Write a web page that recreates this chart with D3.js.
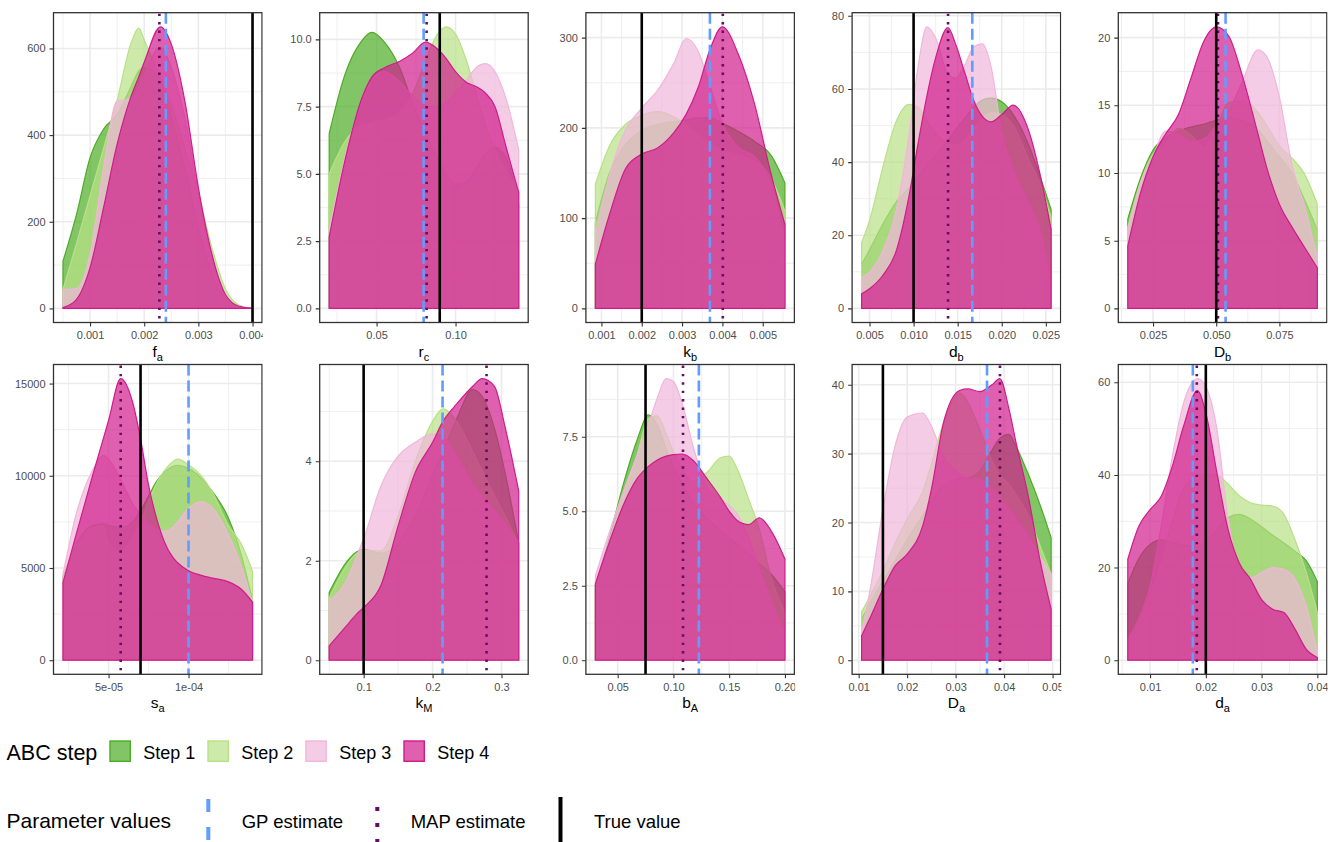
<!DOCTYPE html>
<html>
<head>
<meta charset="utf-8">
<script src="https://cdn.jsdelivr.net/npm/d3@7"></script>
<style>
  body { margin: 0; background: #ffffff; }
  svg { display: block; }
  text { font-family: "Liberation Sans", Arial, Helvetica, sans-serif; }
</style>
</head>
<body>
<svg id="chart" width="1331" height="842"></svg>
<script>
// ABC posterior densities per step, one panel per parameter.

const stepNames = ["Step 1", "Step 2", "Step 3", "Step 4"];
const stepColors = ["#4dac26", "#b8e186", "#f1b6da", "#d01c8b"];

// f_a
const faX  = [0.0005, 0.00075, 0.001, 0.00125, 0.0015, 0.00175, 0.0019, 0.002, 0.0023, 0.0025, 0.00275, 0.003, 0.00325, 0.0035, 0.00375, 0.004];
const faS1 = [109, 217, 348, 414, 448, 510, 548, 556, 530, 440, 325, 186, 79, 21, 3, 0];
const faS2 = [44, 150, 260, 370, 480, 610, 647, 620, 530, 470, 370, 265, 140, 45, 8, 0];
const faS3 = [44, 46, 125, 325, 479, 483, 510, 540, 602, 556, 440, 263, 109, 25, 3, 0];
const faS4 = [2, 21, 94, 233, 379, 487, 535, 568, 650, 610, 479, 279, 125, 32, 5, 0.5];

// r_c
const rcX  = [0.02, 0.03, 0.04, 0.047, 0.055, 0.065, 0.073, 0.081, 0.0875, 0.094, 0.10, 0.107, 0.113, 0.119, 0.125, 0.132, 0.14];
const rcS1 = [6.5, 8.7, 9.9, 10.26, 9.9, 8.9, 7.6, 6.5, 5.7, 5.0, 4.6, 4.7, 5.2, 5.75, 6.0, 5.6, 3.9];
const rcS2 = [5.0, 6.2, 6.8, 6.9, 7.0, 7.3, 8.0, 9.2, 10.1, 10.47, 10.2, 9.2, 8.0, 6.8, 5.9, 5.1, 4.4];
const rcS3 = [2.9, 5.6, 7.6, 8.5, 8.8, 8.4, 7.9, 7.55, 7.5, 7.65, 8.0, 8.5, 8.95, 9.1, 8.8, 7.8, 5.9];
const rcS4 = [2.65, 5.5, 7.7, 8.6, 8.95, 9.2, 9.5, 9.9, 9.7, 9.3, 8.8, 8.4, 8.25, 8.0, 7.5, 6.0, 4.3];

// k_b
const kbX  = [0.00085, 0.0012, 0.0016, 0.002, 0.0024, 0.0028, 0.0031, 0.0034, 0.0037, 0.004, 0.0044, 0.0048, 0.0052, 0.00555];
const kbS1 = [95, 150, 182, 197, 204, 207, 209, 211, 211, 205, 196, 185, 170, 139];
const kbS2 = [138, 180, 204, 214, 218, 212, 203, 192, 182, 175, 170, 163, 145, 108];
const kbS3 = [82, 148, 198, 222, 242, 272, 299, 285, 245, 205, 178, 168, 138, 75];
const kbS4 = [49, 104, 155, 171, 178, 195, 215, 245, 288, 312, 281, 226, 150, 93];

// d_b
const dbX  = [0.0041, 0.005, 0.0065, 0.008, 0.0095, 0.0105, 0.0115, 0.0125, 0.0139, 0.0148, 0.0158, 0.0168, 0.0178, 0.0188, 0.020, 0.0213, 0.023, 0.0245, 0.0256];
const dbS1 = [12, 16, 23, 29, 33, 36, 39, 42, 46, 49, 52, 55, 57, 57.5, 56.5, 53, 45, 35, 27];
const dbS2 = [18, 24, 38.5, 51, 55.8, 55, 51.5, 48, 45, 44.5, 46, 49, 52, 53.5, 53, 50, 41, 33, 25];
const dbS3 = [8.4, 10, 15.7, 26.6, 47.6, 66, 77, 74, 64, 63, 66.5, 71.5, 72.3, 66, 48, 38, 29, 20, 6.6];
const dbS4 = [4, 5.4, 9, 15.5, 31, 45, 58, 68.5, 76.8, 72, 64.5, 57, 52.5, 51, 53, 55.6, 49, 35, 21.5];

// D_b
const DbX  = [0.015, 0.02, 0.025, 0.03, 0.035, 0.04, 0.045, 0.05, 0.055, 0.06, 0.0665, 0.07, 0.075, 0.08, 0.085, 0.09];
const DbS1 = [6.6, 9.6, 11.7, 12.6, 13.1, 13.4, 13.6, 13.9, 14.1, 13.9, 13.2, 12.4, 11.2, 10.0, 8.0, 5.8];
const DbS2 = [6.0, 9.3, 11.4, 12.2, 13.3, 12.8, 11.9, 13.4, 15.2, 15.3, 14.5, 13.5, 12.0, 11.1, 9.9, 7.7];
const DbS3 = [5.7, 9.2, 11.2, 13.1, 12.9, 12.3, 12.5, 13.5, 14.6, 16.6, 19.1, 18.6, 15.6, 10.6, 7.5, 3.8];
const DbS4 = [4.6, 8.5, 11.2, 12.9, 14.3, 17.0, 19.7, 20.8, 20.1, 17.4, 12.9, 10.4, 7.7, 6.0, 4.5, 3.0];

// s_a
const saX  = [2.15e-5, 3e-5, 4e-5, 4.7e-5, 5e-5, 5.76e-5, 6.5e-5, 7e-5, 7.5e-5, 8e-5, 8.5e-5, 9e-5, 9.3e-5, 1e-4, 1.08e-4, 1.15e-4, 1.25e-4, 1.33e-4, 1.4e-4];
const saS1 = [4500, 6300, 7300, 7400, 7300, 7200, 7500, 8100, 8900, 9700, 10200, 10500, 10570, 10400, 9860, 9140, 7700, 5700, 3230];
const saS2 = [4400, 6200, 7200, 7300, 6300, 5900, 6600, 7500, 8600, 9600, 10300, 10750, 10900, 10600, 10000, 9100, 7300, 6300, 4840];
const saS3 = [4660, 8000, 10300, 11100, 10900, 9800, 8500, 7900, 7400, 7100, 7000, 7200, 7500, 8240, 8600, 8240, 6800, 5100, 3050];
const saS4 = [4210, 6900, 10000, 12100, 13000, 15270, 14000, 12000, 9500, 7700, 6400, 5600, 5300, 4850, 4600, 4450, 4250, 3850, 3150];

// k_M
const kmX  = [0.05, 0.075, 0.09, 0.1, 0.125, 0.15, 0.175, 0.2, 0.215, 0.235, 0.258, 0.272, 0.29, 0.305, 0.325];
const kmS1 = [1.36, 1.97, 2.18, 2.23, 2.15, 2.35, 2.9, 3.7, 4.2, 4.85, 5.44, 5.3, 4.65, 3.78, 2.35];
const kmS2 = [1.25, 1.9, 2.15, 2.2, 2.2, 2.9, 4.0, 4.8, 5.05, 4.8, 4.2, 3.8, 3.3, 2.9, 2.35];
const kmS3 = [1.2, 1.6, 2.1, 2.44, 3.5, 4.1, 4.38, 4.55, 4.5, 4.1, 3.55, 3.3, 3.0, 2.75, 2.3];
const kmS4 = [0.29, 0.69, 0.93, 1.06, 1.5, 2.7, 3.78, 4.38, 4.8, 5.15, 5.5, 5.66, 5.5, 4.7, 3.4];

// b_A
const baX  = [0.03, 0.0425, 0.055, 0.0675, 0.0775, 0.0855, 0.0935, 0.1, 0.108, 0.1175, 0.13, 0.1425, 0.15, 0.1575, 0.1675, 0.177, 0.1875, 0.2];
const baS1 = [2.5, 4.1, 5.9, 7.4, 8.23, 7.9, 7.1, 6.5, 5.9, 5.3, 4.75, 4.35, 4.1, 3.9, 3.55, 3.25, 2.9, 2.3];
const baS2 = [2.6, 4.0, 5.5, 6.9, 8.1, 8.2, 7.6, 7.0, 6.4, 6.0, 6.3, 6.8, 6.85, 6.4, 5.4, 4.4, 2.8, 1.6];
const baS3 = [2.84, 4.3, 5.65, 6.88, 7.9, 8.8, 9.45, 9.35, 8.6, 7.2, 5.8, 5.4, 5.2, 4.9, 4.1, 3.1, 2.0, 0.85];
const baS4 = [2.56, 3.96, 5.2, 6.1, 6.5, 6.72, 6.85, 6.9, 6.92, 6.71, 6.1, 5.45, 5.0, 4.68, 4.55, 4.78, 4.35, 3.4];

// D_a
const DaX  = [0.0106, 0.0125, 0.015, 0.0175, 0.02, 0.0232, 0.025, 0.0275, 0.0309, 0.0325, 0.035, 0.0375, 0.0391, 0.041, 0.0425, 0.045, 0.0475, 0.0497];
const DaS1 = [6, 8.5, 11.5, 14.5, 17.5, 21, 23, 25.3, 26.4, 26.5, 27.5, 30.5, 32.2, 32.8, 31, 27, 22.4, 17.8];
const DaS2 = [7, 9.5, 13, 17, 20.5, 24.5, 28.5, 34.5, 38.8, 37.5, 33.5, 29, 27, 25.5, 24, 21, 16.5, 12.5];
const DaS3 = [4, 10.8, 21.9, 31.1, 35.3, 35.9, 34, 29.6, 27, 26.5, 26.3, 24.8, 23.5, 22, 20.5, 18, 15, 12.5];
const DaS4 = [3.5, 6.4, 10.3, 13.7, 15.4, 19.5, 24.8, 34.5, 39.2, 39.4, 39.0, 40.0, 40.9, 36.5, 31.5, 23.8, 14.2, 7.4];

// d_a
const daX  = [0.006, 0.008, 0.010, 0.012, 0.014, 0.016, 0.0185, 0.020, 0.022, 0.024, 0.026, 0.028, 0.030, 0.032, 0.034, 0.036, 0.038, 0.040];
const daS1 = [16.5, 22, 25, 26, 25.5, 24.8, 24.5, 25.5, 28, 30.8, 31.5, 30.5, 28.8, 27, 25.3, 23.5, 21.5, 17];
const daS2 = [4.5, 8, 14, 21, 30, 37, 39.8, 40.2, 40.0, 38, 35.5, 34, 33.5, 33.3, 31.5, 26, 19, 10.3];
const daS3 = [4.5, 9, 16, 29, 44, 55.5, 60.8, 59.1, 49.8, 30.4, 20, 17.8, 18.9, 20, 19.6, 17.5, 11.7, 1.7];
const daS4 = [21.8, 29, 32.5, 35.4, 41.9, 50.5, 58.2, 53.4, 40.4, 28.2, 21.0, 17.5, 13.1, 11.0, 10.3, 6.7, 2.4, 0.6];

// Parameter reference values, in panel order
const paramSymbols = ["f", "r", "k", "d", "D", "s", "k", "b", "D", "d"];
const paramSubs    = ["a", "c", "b", "b", "b", "a", "M", "A", "a", "a"];
const gpEstimate   = [0.0024, 0.0798, 0.00369, 0.01666, 0.0537, 1e-4, 0.2145, 0.1228, 0.03648, 0.01767];
const mapEstimate  = [0.00228, 0.0817, 0.00401, 0.01391, 0.0507, 5.76e-5, 0.2783, 0.1086, 0.03915, 0.01838];
const trueValue    = [0.004, 0.09, 0.002, 0.01, 0.05, 7e-5, 0.1, 0.075, 0.015, 0.02];

// Axis ticks
const faXTicks = [0.001, 0.002, 0.003, 0.004], faXLabels = ["0.001", "0.002", "0.003", "0.004"];
const faYTicks = [0, 200, 400, 600],           faYLabels = ["0", "200", "400", "600"];
const rcXTicks = [0.05, 0.10],                 rcXLabels = ["0.05", "0.10"];
const rcYTicks = [0, 2.5, 5, 7.5, 10],         rcYLabels = ["0.0", "2.5", "5.0", "7.5", "10.0"];
const kbXTicks = [0.001, 0.002, 0.003, 0.004, 0.005], kbXLabels = ["0.001", "0.002", "0.003", "0.004", "0.005"];
const kbYTicks = [0, 100, 200, 300],           kbYLabels = ["0", "100", "200", "300"];
const dbXTicks = [0.005, 0.010, 0.015, 0.020, 0.025], dbXLabels = ["0.005", "0.010", "0.015", "0.020", "0.025"];
const dbYTicks = [0, 20, 40, 60, 80],          dbYLabels = ["0", "20", "40", "60", "80"];
const DbXTicks = [0.025, 0.05, 0.075],         DbXLabels = ["0.025", "0.050", "0.075"];
const DbYTicks = [0, 5, 10, 15, 20],           DbYLabels = ["0", "5", "10", "15", "20"];
const saXTicks = [5e-5, 1e-4],                 saXLabels = ["5e-05", "1e-04"];
const saYTicks = [0, 5000, 10000, 15000],      saYLabels = ["0", "5000", "10000", "15000"];
const kmXTicks = [0.1, 0.2, 0.3],              kmXLabels = ["0.1", "0.2", "0.3"];
const kmYTicks = [0, 2, 4],                    kmYLabels = ["0", "2", "4"];
const baXTicks = [0.05, 0.10, 0.15, 0.20],     baXLabels = ["0.05", "0.10", "0.15", "0.20"];
const baYTicks = [0, 2.5, 5, 7.5],             baYLabels = ["0.0", "2.5", "5.0", "7.5"];
const DaXTicks = [0.01, 0.02, 0.03, 0.04, 0.05], DaXLabels = ["0.01", "0.02", "0.03", "0.04", "0.05"];
const DaYTicks = [0, 10, 20, 30, 40],          DaYLabels = ["0", "10", "20", "30", "40"];
const daXTicks = [0.01, 0.02, 0.03, 0.04],     daXLabels = ["0.01", "0.02", "0.03", "0.04"];
const daYTicks = [0, 20, 40, 60],              daYLabels = ["0", "20", "40", "60"];

// Panel table assembled from the arrays above
const panels = [
  { x: faX, s: [faS1, faS2, faS3, faS4], xt: faXTicks, xl: faXLabels, yt: faYTicks, yl: faYLabels },
  { x: rcX, s: [rcS1, rcS2, rcS3, rcS4], xt: rcXTicks, xl: rcXLabels, yt: rcYTicks, yl: rcYLabels },
  { x: kbX, s: [kbS1, kbS2, kbS3, kbS4], xt: kbXTicks, xl: kbXLabels, yt: kbYTicks, yl: kbYLabels },
  { x: dbX, s: [dbS1, dbS2, dbS3, dbS4], xt: dbXTicks, xl: dbXLabels, yt: dbYTicks, yl: dbYLabels },
  { x: DbX, s: [DbS1, DbS2, DbS3, DbS4], xt: DbXTicks, xl: DbXLabels, yt: DbYTicks, yl: DbYLabels },
  { x: saX, s: [saS1, saS2, saS3, saS4], xt: saXTicks, xl: saXLabels, yt: saYTicks, yl: saYLabels },
  { x: kmX, s: [kmS1, kmS2, kmS3, kmS4], xt: kmXTicks, xl: kmXLabels, yt: kmYTicks, yl: kmYLabels },
  { x: baX, s: [baS1, baS2, baS3, baS4], xt: baXTicks, xl: baXLabels, yt: baYTicks, yl: baYLabels },
  { x: DaX, s: [DaS1, DaS2, DaS3, DaS4], xt: DaXTicks, xl: DaXLabels, yt: DaYTicks, yl: DaYLabels },
  { x: daX, s: [daS1, daS2, daS3, daS4], xt: daXTicks, xl: daXLabels, yt: daYTicks, yl: daYLabels }
];

// Layout
const W = 1331, H = 842;
const cellW = W / 5;
const rowTop = [12.7, 364.5];
const panelH = 309.8;
const panelLeftOff = 53.5;
const panelW = 208.5;

const gpColor = "#619cff";
const mapColor = "#630d63";
const gridColor = "#ebebeb";
const borderColor = "#333333";
const tickTextColor = "#4d4d4d";

const svg = d3.select("#chart");
svg.append("rect").attr("width", W).attr("height", H).attr("fill", "#ffffff");
const defs = svg.append("defs");

function minorTicks(ticks, domain) {
  const out = [];
  const step = ticks[1] - ticks[0];
  const ext = [ticks[0] - step / 2].concat(ticks.slice(0, -1).map((t, i) => (t + ticks[i + 1]) / 2), [ticks[ticks.length - 1] + step / 2]);
  ext.forEach(v => { if (v >= domain[0] && v <= domain[1]) out.push(v); });
  return out;
}

panels.forEach((p, i) => {
  const col = i % 5, row = Math.floor(i / 5);
  const cx = col * cellW;
  const L = cx + panelLeftOff, R = L + panelW;
  const T = rowTop[row], B = T + panelH;

  defs.append("clipPath").attr("id", "cell" + i)
    .append("rect").attr("x", cx).attr("y", 0).attr("width", cellW - 3.4).attr("height", H);
  defs.append("clipPath").attr("id", "plot" + i)
    .append("rect").attr("x", L).attr("y", T).attr("width", panelW).attr("height", panelH);

  const g = svg.append("g").attr("clip-path", `url(#cell${i})`);

  // scale domains: density support plus reference lines, padded 5%
  const xsAll = p.x.concat([gpEstimate[i], mapEstimate[i], trueValue[i]]);
  const [x0, x1] = d3.extent(xsAll);
  const xPad = (x1 - x0) * 0.05;
  const xDom = [x0 - xPad, x1 + xPad];
  const yMax = d3.max(p.s.map(a => d3.max(a)));
  const yDom = [-0.05 * yMax, 1.05 * yMax];

  const x = d3.scaleLinear().domain(xDom).range([L, R]);
  const y = d3.scaleLinear().domain(yDom).range([B, T]);

  const plot = g.append("g").attr("clip-path", `url(#plot${i})`);

  // grid
  minorTicks(p.xt, xDom).forEach(v => {
    plot.append("line").attr("x1", x(v)).attr("x2", x(v)).attr("y1", T).attr("y2", B)
      .attr("stroke", gridColor).attr("stroke-width", 0.8);
  });
  minorTicks(p.yt, yDom).forEach(v => {
    plot.append("line").attr("x1", L).attr("x2", R).attr("y1", y(v)).attr("y2", y(v))
      .attr("stroke", gridColor).attr("stroke-width", 0.8);
  });
  p.xt.forEach(v => {
    plot.append("line").attr("x1", x(v)).attr("x2", x(v)).attr("y1", T).attr("y2", B)
      .attr("stroke", gridColor).attr("stroke-width", 1.6);
  });
  p.yt.forEach(v => {
    plot.append("line").attr("x1", L).attr("x2", R).attr("y1", y(v)).attr("y2", y(v))
      .attr("stroke", gridColor).attr("stroke-width", 1.6);
  });

  // densities, step 1 first
  const area = d3.area()
    .x(d => x(d[0]))
    .y0(y(0))
    .y1(d => y(d[1]))
    .curve(d3.curveMonotoneX);

  p.s.forEach((vals, k) => {
    const pts = p.x.map((xv, j) => [xv, vals[j]]);
    plot.append("path")
      .attr("d", area(pts) + "Z")
      .attr("fill", stepColors[k])
      .attr("fill-opacity", 0.7)
      .attr("stroke", stepColors[k])
      .attr("stroke-width", 1.2)
      .attr("stroke-linejoin", "round");
  });

  // reference lines
  plot.append("line").attr("x1", x(gpEstimate[i])).attr("x2", x(gpEstimate[i])).attr("y1", T).attr("y2", B)
    .attr("stroke", gpColor).attr("stroke-width", 2.6).attr("stroke-dasharray", "11,5");
  plot.append("line").attr("x1", x(mapEstimate[i])).attr("x2", x(mapEstimate[i])).attr("y1", T + 1).attr("y2", B)
    .attr("stroke", mapColor).attr("stroke-width", 2.6).attr("stroke-dasharray", "2.4,6");
  plot.append("line").attr("x1", x(trueValue[i])).attr("x2", x(trueValue[i])).attr("y1", T).attr("y2", B)
    .attr("stroke", "#000000").attr("stroke-width", 2.6);

  // panel border
  g.append("rect").attr("x", L).attr("y", T).attr("width", panelW).attr("height", panelH)
    .attr("fill", "none").attr("stroke", borderColor).attr("stroke-width", 1.3);

  // axes
  const xAxis = d3.axisBottom(x).tickValues(p.xt).tickFormat((d, j) => p.xl[j]).tickSize(4).tickPadding(4.5);
  const yAxis = d3.axisLeft(y).tickValues(p.yt).tickFormat((d, j) => p.yl[j]).tickSize(4).tickPadding(4);

  const gx = g.append("g").attr("transform", `translate(0,${B})`).call(xAxis);
  const gy = g.append("g").attr("transform", `translate(${L},0)`).call(yAxis);
  [gx, gy].forEach(ax => {
    ax.select(".domain").remove();
    ax.selectAll(".tick line").attr("stroke", borderColor).attr("stroke-width", 1.1);
    ax.selectAll(".tick text").attr("fill", tickTextColor).style("font-size", "11px")
      .style("font-family", '"Liberation Sans", Arial, Helvetica, sans-serif');
  });

  // axis title with subscript
  const title = g.append("text")
    .attr("x", (L + R) / 2).attr("y", B + 34)
    .attr("text-anchor", "middle")
    .attr("fill", "#000000")
    .style("font-size", "15.5px");
  title.append("tspan").text(paramSymbols[i]);
  title.append("tspan").attr("dy", 4).style("font-size", "11px").text(paramSubs[i]);
});

// Legend: ABC step
const leg1 = svg.append("g");
leg1.append("text").attr("x", 6.5).attr("y", 759.5).style("font-size", "21.5px").attr("fill", "#000").text("ABC step");
const keyX1 = [109.3, 207.3, 305.2, 403.3];
stepNames.forEach((nm, k) => {
  leg1.append("rect")
    .attr("x", keyX1[k] + 0.7).attr("y", 741).attr("width", 20.3).attr("height", 20.3)
    .attr("fill", stepColors[k]).attr("fill-opacity", 0.7)
    .attr("stroke", stepColors[k]).attr("stroke-width", 1.4);
  leg1.append("text").attr("x", keyX1[k] + 34).attr("y", 759).style("font-size", "18px").attr("fill", "#000").text(nm);
});

// Legend: parameter values
const refNames = ["GP estimate", "MAP estimate", "True value"];
const keyX2 = [208.3, 377.3, 560.5];
const leg2 = svg.append("g");
leg2.append("text").attr("x", 6.5).attr("y", 828).style("font-size", "21px").attr("fill", "#000").text("Parameter values");
leg2.append("line").attr("x1", keyX2[0]).attr("x2", keyX2[0]).attr("y1", 799).attr("y2", 850)
  .attr("stroke", gpColor).attr("stroke-width", 4).attr("stroke-dasharray", "13,15");
leg2.append("line").attr("x1", keyX2[1]).attr("x2", keyX2[1]).attr("y1", 807).attr("y2", 850)
  .attr("stroke", mapColor).attr("stroke-width", 4).attr("stroke-dasharray", "4,12");
leg2.append("line").attr("x1", keyX2[2]).attr("x2", keyX2[2]).attr("y1", 797).attr("y2", 850)
  .attr("stroke", "#000000").attr("stroke-width", 4);
refNames.forEach((nm, k) => {
  leg2.append("text").attr("x", keyX2[k] + 33.4).attr("y", 828).style("font-size", "18.5px").attr("fill", "#000").text(nm);
});
</script>
</body>
</html>
